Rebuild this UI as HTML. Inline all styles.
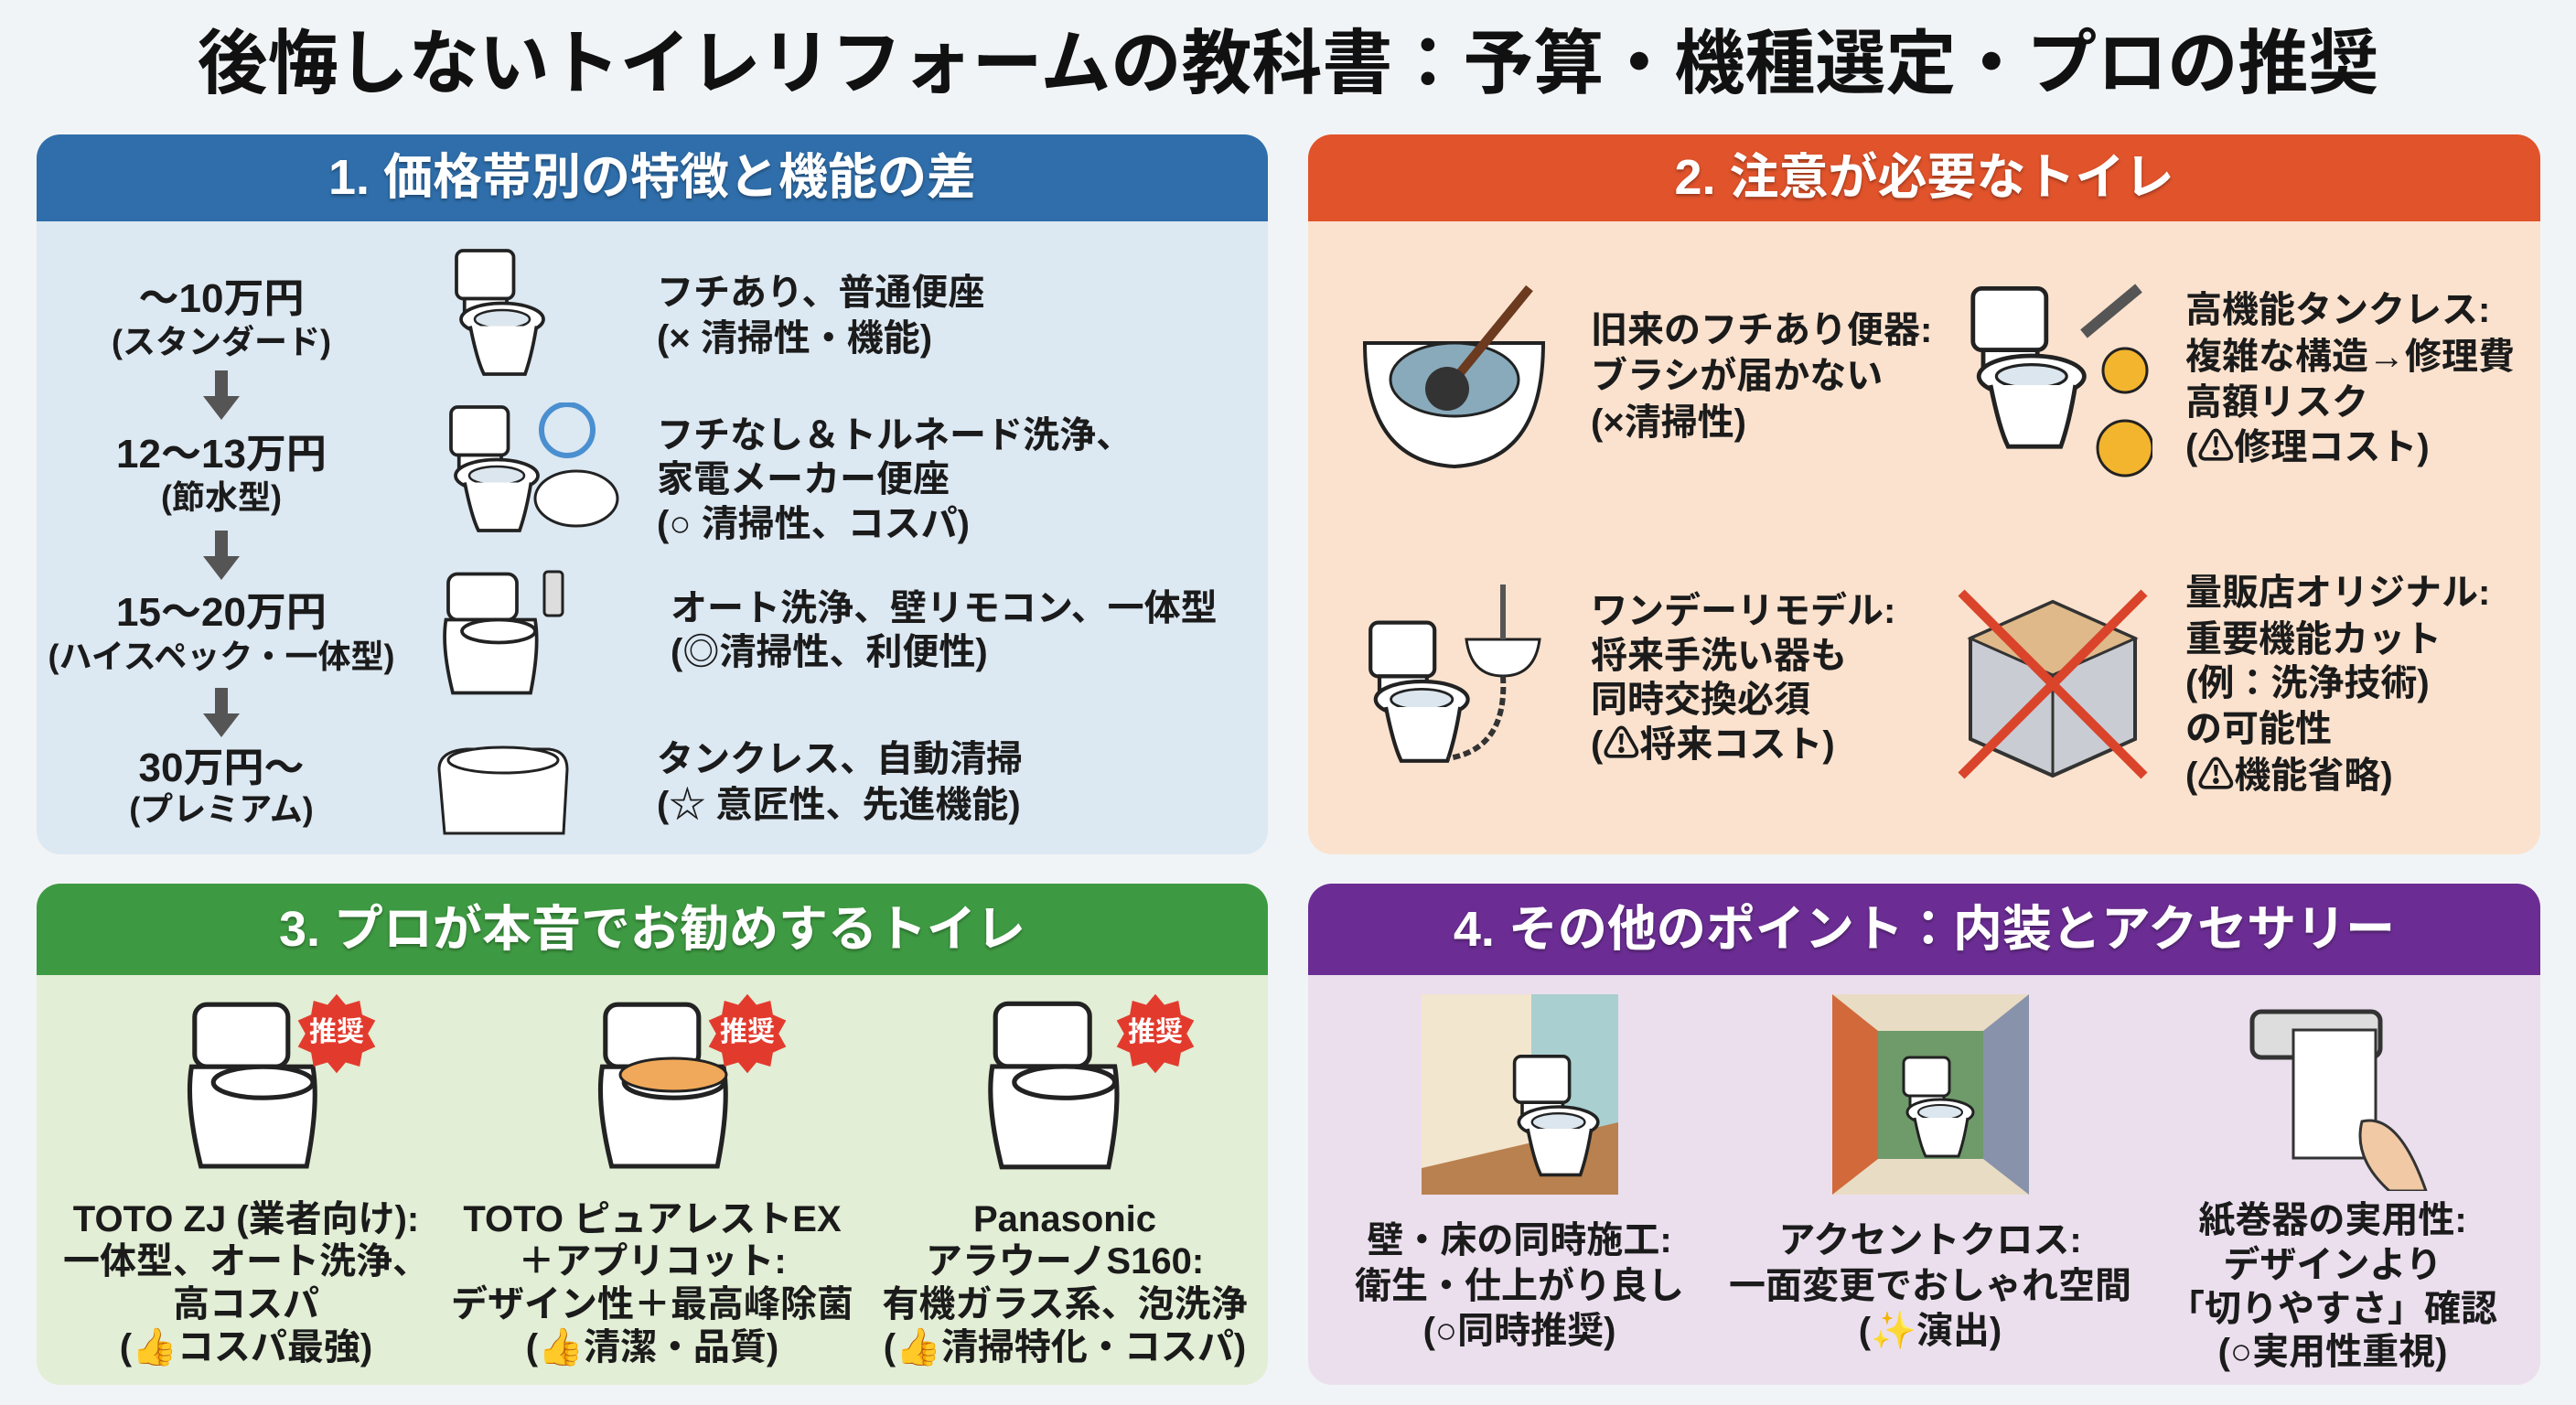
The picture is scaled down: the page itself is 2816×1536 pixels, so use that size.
<!DOCTYPE html>
<html><head><meta charset="utf-8">
<style>
body{margin:0;width:2816px;height:1536px;background:#f1f4f6;position:relative;overflow:hidden;font-family:"Liberation Sans","Noto Sans CJK JP",sans-serif;font-weight:bold;color:#1b1b1b}
.a{position:absolute;white-space:nowrap;line-height:1}
.c{transform:translateX(-50%);text-align:center}
.p{position:absolute;border-radius:26px;overflow:hidden}
.h{position:absolute;left:0;right:0;top:0;color:#fff;font-size:54px;text-align:center;text-shadow:0 2px 3px rgba(0,0,0,.35)}
.f40{font-size:40px}.f43{font-size:44px}.f36{font-size:36px}
svg.i{position:absolute}
</style></head><body>
<svg width="0" height="0" style="position:absolute">
<defs>
<symbol id="toilet" viewBox="0 0 100 120">
<rect x="18" y="4" width="50" height="42" rx="6" fill="#fff" stroke="#222" stroke-width="3"/>
<path d="M25 46 L62 46 L62 60 L25 60Z" fill="#fff" stroke="#222" stroke-width="3"/>
<ellipse cx="58" cy="64" rx="36" ry="14" fill="#fff" stroke="#222" stroke-width="3"/>
<ellipse cx="58" cy="64" rx="24" ry="8" fill="#dbe6ee" stroke="#222" stroke-width="2"/>
<path d="M30 70 Q36 100 42 112 L78 112 Q84 95 88 70" fill="#fff" stroke="#222" stroke-width="3"/>
</symbol>
<symbol id="oneP" viewBox="0 0 100 120">
<rect x="14" y="6" width="60" height="40" rx="8" fill="#fff" stroke="#222" stroke-width="3"/>
<path d="M12 46 L90 46 Q94 70 86 110 L18 110 Q8 70 12 46Z" fill="#fff" stroke="#222" stroke-width="3"/>
<ellipse cx="58" cy="56" rx="32" ry="10" fill="#fff" stroke="#222" stroke-width="3"/>
</symbol>
<symbol id="badge" viewBox="0 0 100 100">
<polygon points="50,2 61,15 78,10 81,27 97,34 88,50 97,66 81,73 78,90 61,85 50,98 39,85 22,90 19,73 3,66 12,50 3,34 19,27 22,10 39,15" fill="#e23b2e"/>
</symbol>
</defs></svg>

<div class="a c" style="left:1408px;top:32px;font-size:77px;color:#111">後悔しないトイレリフォームの教科書：予算・機種選定・プロの推奨</div>

<!-- Panel 1 -->
<div class="p" style="left:40px;top:147px;width:1346px;height:787px;background:#dce8f2">
<div class="h" style="height:95px;background:#2f6eaa;line-height:95px">1. 価格帯別の特徴と機能の差</div></div>
<div class="a c f43" style="left:242px;top:305px">～10万円</div>
<div class="a c f36" style="left:242px;top:356px">(スタンダード)</div>
<div class="a c f43" style="left:242px;top:475px">12～13万円</div>
<div class="a c f36" style="left:242px;top:526px">(節水型)</div>
<div class="a c f43" style="left:242px;top:648px">15～20万円</div>
<div class="a c f36" style="left:242px;top:700px">(ハイスペック・一体型)</div>
<div class="a c f43" style="left:242px;top:818px">30万円～</div>
<div class="a c f36" style="left:242px;top:867px">(プレミアム)</div>
<svg class="i" style="left:222px;top:405px" width="40" height="56"><rect x="13" y="0" width="14" height="30" fill="#555"/><polygon points="0,28 40,28 20,54" fill="#555"/></svg>
<svg class="i" style="left:222px;top:580px" width="40" height="56"><rect x="13" y="0" width="14" height="30" fill="#555"/><polygon points="0,28 40,28 20,54" fill="#555"/></svg>
<svg class="i" style="left:222px;top:752px" width="40" height="56"><rect x="13" y="0" width="14" height="30" fill="#555"/><polygon points="0,28 40,28 20,54" fill="#555"/></svg>

<svg class="i" style="left:476px;top:269px" width="126" height="150"><use href="#toilet"/></svg>
<svg class="i" style="left:458px;top:440px" width="150" height="150"><use href="#toilet"/></svg>
<svg class="i" style="left:560px;top:440px" width="120" height="150"><circle cx="60" cy="30" r="28" fill="none" stroke="#4a8fd0" stroke-width="6"/><ellipse cx="70" cy="105" rx="45" ry="30" fill="#fff" stroke="#222" stroke-width="3"/></svg>
<svg class="i" style="left:470px;top:620px" width="130" height="150"><use href="#oneP"/></svg>
<svg class="i" style="left:590px;top:620px" width="30" height="60"><rect x="5" y="5" width="20" height="48" rx="4" fill="#ddd" stroke="#222" stroke-width="3"/></svg>
<svg class="i" style="left:470px;top:781px" width="158" height="144"><path d="M10 60 Q10 40 40 38 L130 38 Q150 40 150 60 L146 130 L16 130Z" fill="#fff" stroke="#222" stroke-width="3"/><ellipse cx="80" cy="50" rx="60" ry="14" fill="#fff" stroke="#222" stroke-width="3"/></svg>

<div class="a f40" style="left:718px;top:300px">フチあり、普通便座</div>
<div class="a f40" style="left:718px;top:350px">(× 清掃性・機能)</div>
<div class="a f40" style="left:718px;top:456px">フチなし＆トルネード洗浄、</div>
<div class="a f40" style="left:718px;top:504px">家電メーカー便座</div>
<div class="a f40" style="left:718px;top:553px">(○ 清掃性、コスパ)</div>
<div class="a f40" style="left:733px;top:645px">オート洗浄、壁リモコン、一体型</div>
<div class="a f40" style="left:733px;top:693px">(◎清掃性、利便性)</div>
<div class="a f40" style="left:718px;top:810px">タンクレス、自動清掃</div>
<div class="a f40" style="left:718px;top:860px">(☆ 意匠性、先進機能)</div>

<!-- Panel 2 -->
<div class="p" style="left:1430px;top:147px;width:1347px;height:787px;background:#fbe2ce">
<div class="h" style="height:95px;background:#e0532b;line-height:95px">2. 注意が必要なトイレ</div></div>
<svg class="i" style="left:1482px;top:305px" width="215" height="216"><path d="M10 70 Q10 200 108 205 Q205 200 205 70Z" fill="#fff" stroke="#222" stroke-width="4"/><ellipse cx="108" cy="110" rx="70" ry="40" fill="#8ab" stroke="#222" stroke-width="3"/><line x1="100" y1="120" x2="190" y2="10" stroke="#6b3a1f" stroke-width="10"/><circle cx="100" cy="120" r="24" fill="#333"/></svg>
<svg class="i" style="left:2128px;top:305px" width="225" height="225"><use href="#toilet" x="0" y="0" width="160" height="200"/><circle cx="195" cy="100" r="24" fill="#f3b52e" stroke="#222" stroke-width="3"/><circle cx="195" cy="185" r="30" fill="#f3b52e" stroke="#222" stroke-width="3"/><line x1="150" y1="60" x2="210" y2="10" stroke="#555" stroke-width="12"/></svg>
<svg class="i" style="left:1473px;top:629px" width="224" height="224"><use href="#toilet" x="0" y="40" width="140" height="180"/><path d="M130 70 L210 70 Q205 110 170 110 Q135 110 130 70Z" fill="#fff" stroke="#222" stroke-width="3"/><line x1="170" y1="10" x2="170" y2="70" stroke="#555" stroke-width="6"/><path d="M170 110 Q175 190 110 200" fill="none" stroke="#333" stroke-width="6" stroke-dasharray="8 4"/></svg>
<svg class="i" style="left:2134px;top:638px" width="220" height="215"><polygon points="20,60 110,20 200,60 200,170 110,210 20,170" fill="#c9ccd3" stroke="#333" stroke-width="4"/><polygon points="20,60 110,100 200,60 110,20" fill="#dfb98a" stroke="#333" stroke-width="3"/><line x1="110" y1="100" x2="110" y2="210" stroke="#333" stroke-width="3"/><line x1="10" y1="10" x2="210" y2="210" stroke="#d9442b" stroke-width="10"/><line x1="210" y1="10" x2="10" y2="210" stroke="#d9442b" stroke-width="10"/></svg>

<div class="a f40" style="left:1739px;top:341px">旧来のフチあり便器:</div>
<div class="a f40" style="left:1739px;top:391px">ブラシが届かない</div>
<div class="a f40" style="left:1739px;top:442px">(×清掃性)</div>
<div class="a f40" style="left:2389px;top:319px">高機能タンクレス:</div>
<div class="a f40" style="left:2389px;top:370px">複雑な構造→修理費</div>
<div class="a f40" style="left:2389px;top:420px">高額リスク</div>
<div class="a f40" style="left:2389px;top:469px">(⚠修理コスト)</div>
<div class="a f40" style="left:1739px;top:648px">ワンデーリモデル:</div>
<div class="a f40" style="left:1739px;top:697px">将来手洗い器も</div>
<div class="a f40" style="left:1739px;top:745px">同時交換必須</div>
<div class="a f40" style="left:1739px;top:794px">(⚠将来コスト)</div>
<div class="a f40" style="left:2389px;top:628px">量販店オリジナル:</div>
<div class="a f40" style="left:2389px;top:679px">重要機能カット</div>
<div class="a f40" style="left:2389px;top:727px">(例：洗浄技術)</div>
<div class="a f40" style="left:2389px;top:777px">の可能性</div>
<div class="a f40" style="left:2389px;top:828px">(⚠機能省略)</div>

<!-- Panel 3 -->
<div class="p" style="left:40px;top:966px;width:1346px;height:548px;background:#e2eed5">
<div class="h" style="height:100px;background:#3e9a42;line-height:100px">3. プロが本音でお勧めするトイレ</div></div>
<svg class="i" style="left:189px;top:1087px" width="170" height="206"><use href="#oneP"/></svg>
<svg class="i" style="left:638px;top:1087px" width="170" height="206"><use href="#oneP"/><ellipse cx="98" cy="88" rx="58" ry="18" fill="#f0a95a" stroke="#222" stroke-width="3"/></svg>
<svg class="i" style="left:1060px;top:1087px" width="180" height="206"><use href="#oneP"/></svg>
<svg class="i" style="left:323px;top:1085px" width="90" height="90"><use href="#badge"/></svg>
<svg class="i" style="left:772px;top:1085px" width="90" height="90"><use href="#badge"/></svg>
<svg class="i" style="left:1218px;top:1085px" width="90" height="90"><use href="#badge"/></svg>
<div class="a c" style="left:368px;top:1114px;font-size:30px;color:#fff">推奨</div>
<div class="a c" style="left:817px;top:1114px;font-size:30px;color:#fff">推奨</div>
<div class="a c" style="left:1263px;top:1114px;font-size:30px;color:#fff">推奨</div>

<div class="a c f40" style="left:269px;top:1313px">TOTO ZJ (業者向け):</div>
<div class="a c f40" style="left:269px;top:1359px">一体型、オート洗浄、</div>
<div class="a c f40" style="left:269px;top:1406px">高コスパ</div>
<div class="a c f40" style="left:269px;top:1453px">(👍コスパ最強)</div>
<div class="a c f40" style="left:713px;top:1313px">TOTO ピュアレストEX</div>
<div class="a c f40" style="left:713px;top:1359px">＋アプリコット:</div>
<div class="a c f40" style="left:713px;top:1406px">デザイン性＋最高峰除菌</div>
<div class="a c f40" style="left:713px;top:1453px">(👍清潔・品質)</div>
<div class="a c f40" style="left:1164px;top:1313px">Panasonic</div>
<div class="a c f40" style="left:1164px;top:1359px">アラウーノS160:</div>
<div class="a c f40" style="left:1164px;top:1406px">有機ガラス系、泡洗浄</div>
<div class="a c f40" style="left:1164px;top:1453px">(👍清掃特化・コスパ)</div>

<!-- Panel 4 -->
<div class="p" style="left:1430px;top:966px;width:1347px;height:548px;background:#ebdfee">
<div class="h" style="height:100px;background:#6b2d93;line-height:100px">4. その他のポイント：内装とアクセサリー</div></div>
<svg class="i" style="left:1554px;top:1087px" width="215" height="219"><rect width="215" height="219" fill="#f3e6cf"/><rect x="120" y="0" width="95" height="160" fill="#a9cfd0"/><polygon points="0,219 0,190 215,140 215,219" fill="#b9814f"/><use href="#toilet" x="80" y="60" width="120" height="150"/></svg>
<svg class="i" style="left:2003px;top:1087px" width="215" height="219"><rect width="215" height="219" fill="#e9dcc4"/><polygon points="0,0 50,40 50,180 0,219" fill="#d1693a"/><rect x="50" y="40" width="115" height="140" fill="#6f9a6a"/><polygon points="215,0 165,40 165,180 215,219" fill="#8892aa"/><use href="#toilet" x="60" y="60" width="100" height="130"/></svg>
<svg class="i" style="left:2452px;top:1096px" width="203" height="206"><rect x="10" y="10" width="140" height="50" rx="10" fill="#ddd" stroke="#333" stroke-width="5"/><rect x="55" y="30" width="90" height="140" fill="#fff" stroke="#333" stroke-width="3"/><path d="M130 130 Q170 120 200 206 L160 206 Q120 170 130 130Z" fill="#f1c9a5" stroke="#333" stroke-width="3"/></svg>

<div class="a c f40" style="left:1661px;top:1336px">壁・床の同時施工:</div>
<div class="a c f40" style="left:1661px;top:1386px">衛生・仕上がり良し</div>
<div class="a c f40" style="left:1661px;top:1435px">(○同時推奨)</div>
<div class="a c f40" style="left:2110px;top:1336px">アクセントクロス:</div>
<div class="a c f40" style="left:2110px;top:1386px">一面変更でおしゃれ空間</div>
<div class="a c f40" style="left:2110px;top:1435px">(✨演出)</div>
<div class="a c f40" style="left:2550px;top:1314px">紙巻器の実用性:</div>
<div class="a c f40" style="left:2550px;top:1363px">デザインより</div>
<div class="a c f40" style="left:2550px;top:1411px">「切りやすさ」確認</div>
<div class="a c f40" style="left:2550px;top:1458px">(○実用性重視)</div>
</body></html>
